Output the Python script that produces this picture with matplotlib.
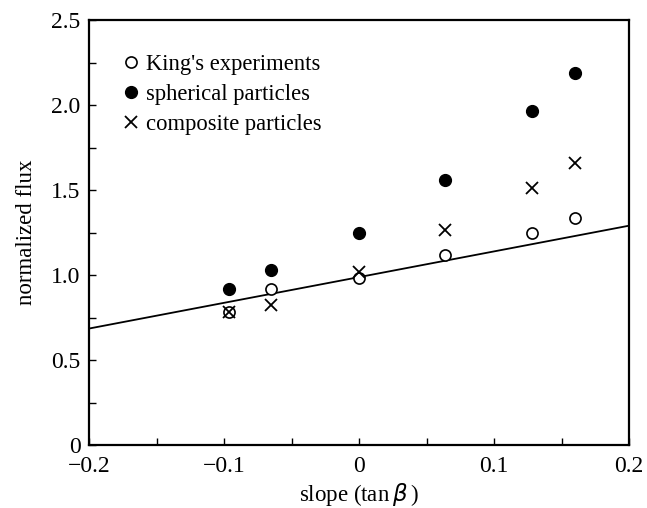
import matplotlib
matplotlib.use("Agg")
import matplotlib.pyplot as plt
from matplotlib.ticker import MultipleLocator

slope = [-0.096, -0.065, 0.0, 0.064, 0.128, 0.160]
king = [0.78, 0.915, 0.985, 1.12, 1.245, 1.335]
spherical = [0.915, 1.03, 1.245, 1.56, 1.965, 2.19]
composite = [0.78, 0.825, 1.02, 1.265, 1.51, 1.66]
fit_x = [-0.2, 0.2]
fit_y = [0.685, 1.29]

plt.rcParams['font.family'] = ['Liberation Serif', 'DejaVu Serif']

fig = plt.figure(figsize=(6.47, 5.08), dpi=100)
ax = fig.add_axes([89/647, 1-445/508, (629-89)/647, (445-20)/508])

ax.plot(fit_x, fit_y, color='black', lw=1.3)
ax.plot(slope, king, 'o', mfc='white', mec='black', mew=1.2, ms=8, ls='none', label="King's experiments")
ax.plot(slope, spherical, 'o', mfc='black', mec='black', ms=8.5, ls='none', label='spherical particles')
ax.plot(slope, composite, 'x', color='black', mew=1.3, ms=9, ls='none', label='composite particles')

ax.set_xlim(-0.2, 0.2)
ax.set_ylim(0, 2.5)
ax.xaxis.set_minor_locator(MultipleLocator(0.05))
ax.yaxis.set_minor_locator(MultipleLocator(0.25))
ax.set_xticks([-0.2, -0.1, 0, 0.1, 0.2])
ax.set_xticklabels(['\u22120.2', '\u22120.1', '0', '0.1', '0.2'])
ax.set_yticks([0, 0.5, 1.0, 1.5, 2.0, 2.5])
ax.set_yticklabels(['0', '0.5', '1.0', '1.5', '2.0', '2.5'])
ax.tick_params(which='both', direction='in', length=5, width=1, labelsize=17, top=False, right=False)
ax.tick_params(axis='x', pad=8)
ax.tick_params(axis='y', pad=6)
for s in ax.spines.values():
    s.set_linewidth(1.6)

ax.set_xlabel(r'slope (tan$\,\beta\,$)', fontsize=16.5, labelpad=3)
ax.set_ylabel('normalized flux', fontsize=16.5, labelpad=10)

ax.legend(loc='upper left', bbox_to_anchor=(0.046, 0.942), frameon=False, fontsize=16.3,
          handlelength=0.7, handletextpad=0.33, labelspacing=0.4, borderaxespad=0)

fig.savefig('out.png', dpi=100)
